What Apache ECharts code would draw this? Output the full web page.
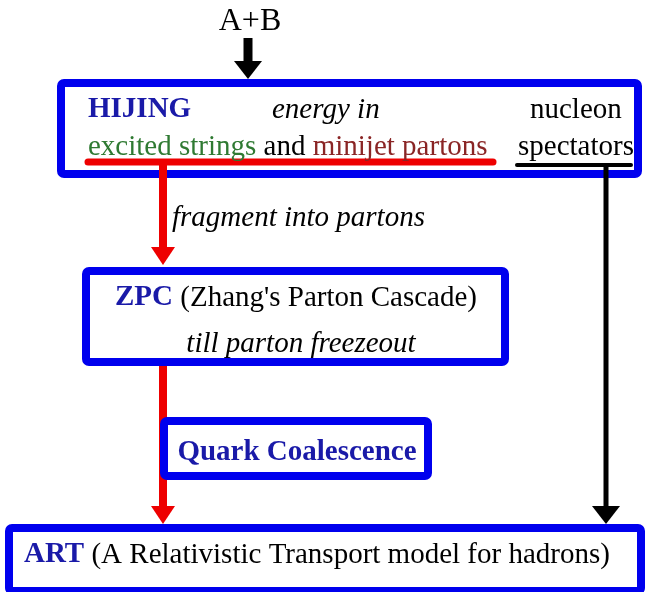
<!DOCTYPE html>
<html>
<head>
<meta charset="utf-8">
<script src="https://cdn.jsdelivr.net/npm/echarts@6/dist/echarts.min.js"></script>
<style>html,body{margin:0;padding:0;background:#fff}#c{width:646px;height:592px}</style>
</head>
<body>
<div id="c"></div>
<script>
// ---- diagram content ----
const boxNames  = ['HIJING', 'ZPC', 'Quark Coalescence', 'ART'];
const boxLeft   = [57, 82, 160, 5];
const boxTop    = [79, 267, 417, 524];
const boxRight  = [642, 509, 432, 645];
const boxBottom = [178, 366, 480, 595];
const boxLayer  = [0, 1, 1, 1];

const arrowX     = [248, 163, 163, 606];
const arrowFromY = [38, 161, 364, 165];
const arrowToY   = [79, 265, 524, 524];
const arrowColor = ['#000000', '#ee0000', '#ee0000', '#000000'];

const ruleX1 = [88, 517];
const ruleX2 = [493, 631];
const ruleY  = [162, 165];
const ruleColor = ['#ee0000', '#000000'];

const labelTexts = [
  '{n|A+B}',
  '{bb|HIJING}',
  '{i|energy in}',
  '{n|nucleon}',
  '{g|excited strings} {n|and} {r|minijet partons}',
  '{n|spectators}',
  '{i|fragment into partons}',
  "{bb|ZPC} {n|(Zhang's Parton Cascade)}",
  '{i|till parton freezeout}',
  '{bb|Quark Coalescence}',
  '{bb|ART} {n|(A Relativistic Transport model for hadrons)}'
];
const labelX = [250, 88, 272, 530, 88, 518, 172, 296, 301, 297, 24];
const labelY = [22, 110, 110, 110, 147, 147, 218, 298, 344, 453, 555];
const labelAlign = ['center','left','left','left','left','left','left','center','center','center','left'];

// ---- styles ----
const FAM = "'Liberation Serif','Times New Roman',serif";
const FS = 29;
const BLUE = '#0000ee';
function st(extra) { return Object.assign({fontFamily: FAM, fontSize: FS, fill: '#000'}, extra); }
const rich = {
  n:  st({}),
  bb: st({fontWeight: 'bold', fill: '#1a1aa8'}),
  i:  st({fontStyle: 'italic'}),
  g:  st({fill: '#2f7a32'}),
  r:  st({fill: '#8a2525'})
};
const richBig = Object.assign({}, rich, {n: st({fontSize: 32})});

function boxSeries(layer) {
  const data = [];
  boxNames.forEach((n, i) => { if (boxLayer[i] === layer) data.push({name: n, value: [boxLeft[i], boxTop[i], boxRight[i], boxBottom[i]]}); });
  return {
    type: 'custom', coordinateSystem: 'cartesian2d', silent: true, clip: false,
    data: data,
    renderItem: function (params, api) {
      const p0 = api.coord([api.value(0), api.value(1)]);
      const p1 = api.coord([api.value(2), api.value(3)]);
      const lw = 8;
      return {
        type: 'rect',
        shape: {x: p0[0] + lw / 2, y: p0[1] + lw / 2, width: p1[0] - p0[0] - lw, height: p1[1] - p0[1] - lw, r: 3},
        style: {fill: '#fff', stroke: BLUE, lineWidth: lw}
      };
    }
  };
}

const arrowSeries = {
  type: 'custom', coordinateSystem: 'cartesian2d', silent: true, clip: false,
  data: arrowX.map((x, i) => [x, arrowFromY[i], arrowToY[i]]),
  renderItem: function (params, api) {
    const a = api.coord([api.value(0), api.value(1)]);
    const b = api.coord([api.value(0), api.value(2)]);
    const c = arrowColor[params.dataIndex];
    const black = c === '#000000';
    const hw = black ? 14 : 12, hh = 18, sw = black ? (params.dataIndex === 0 ? 9 : 5) : 8;
    return {
      type: 'group',
      children: [
        {type: 'line', shape: {x1: a[0], y1: a[1], x2: b[0], y2: b[1] - hh + 2}, style: {stroke: c, lineWidth: sw, lineCap: 'butt'}},
        {type: 'polygon', shape: {points: [[b[0] - hw, b[1] - hh], [b[0] + hw, b[1] - hh], [b[0], b[1]]]}, style: {fill: c}}
      ]
    };
  }
};

const ruleSeries = {
  type: 'custom', coordinateSystem: 'cartesian2d', silent: true, clip: false,
  data: ruleX1.map((x, i) => [x, ruleX2[i], ruleY[i]]),
  renderItem: function (params, api) {
    const a = api.coord([api.value(0), api.value(2)]);
    const b = api.coord([api.value(1), api.value(2)]);
    const c = ruleColor[params.dataIndex];
    return {type: 'line', shape: {x1: a[0], y1: a[1], x2: b[0], y2: b[1]}, style: {stroke: c, lineWidth: params.dataIndex === 0 ? 7 : 4, lineCap: 'round'}};
  }
};

const textSeries = {
  type: 'custom', coordinateSystem: 'cartesian2d', silent: true, clip: false,
  data: labelX.map((x, i) => [x, labelY[i]]),
  renderItem: function (params, api) {
    const p = api.coord([api.value(0), api.value(1)]);
    const i = params.dataIndex;
    return {
      type: 'text',
      style: {x: p[0], y: p[1], text: labelTexts[i], rich: i === 0 ? richBig : rich, align: labelAlign[i], verticalAlign: 'middle',
              fontFamily: FAM, fontSize: FS, fill: '#000'}
    };
  }
};

const chart = echarts.init(document.getElementById('c'), null, {renderer: 'canvas'});
chart.setOption({
  animation: false,
  backgroundColor: '#fff',
  grid: {left: 0, right: 0, top: 0, bottom: 0},
  xAxis: {type: 'value', min: 0, max: 646, show: false},
  yAxis: {type: 'value', min: 0, max: 592, inverse: true, show: false},
  series: [boxSeries(0), arrowSeries, ruleSeries, boxSeries(1), textSeries]
});
</script>
</body>
</html>
